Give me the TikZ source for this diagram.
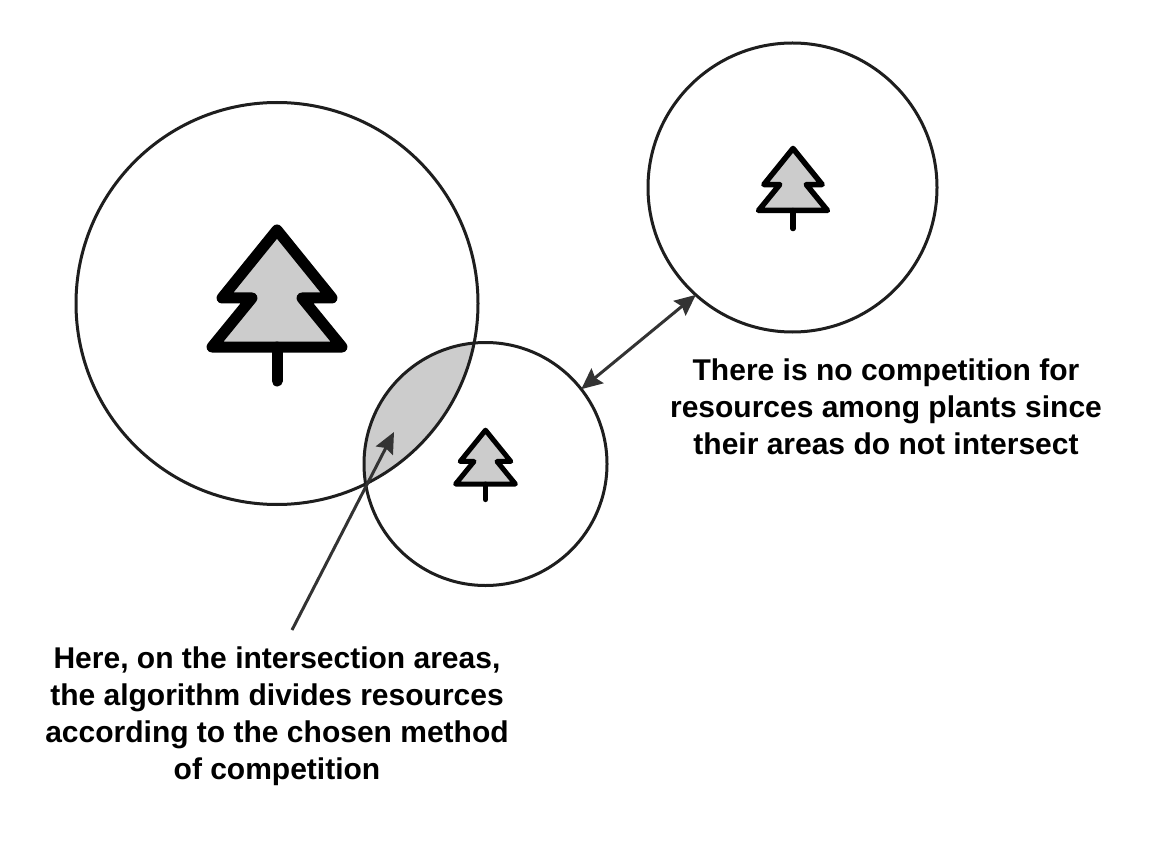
\documentclass[tikz,border=0pt]{standalone}
\usepackage{fontspec}
\setmainfont{Liberation Sans}
\usetikzlibrary{arrows.meta}
\definecolor{ink}{HTML}{1E1E1E}
\definecolor{arrowgray}{HTML}{333333}
\definecolor{leafgray}{HTML}{CCCCCC}
\newcommand{\treeicon}[4]{% x, y (base centre), scale, line width
  \begin{scope}[shift={(#1,#2)}, xscale=#3, yscale=-#3]
    \filldraw[fill=leafgray, draw=black, line width=#4, line join=round, line cap=round]
      (0,117) -- (55,49) -- (25,49) -- (65,0) -- (-65,0) -- (-25,49) -- (-55,49) -- cycle;
    \draw[black, line width=#4, line cap=round] (0,0) -- (0,-34);
  \end{scope}}
\tikzset{
  area/.style={circle, draw=ink, line width=3pt, inner sep=0pt, outer sep=0pt},
  conn/.style={draw=arrowgray, line width=3pt},
  caption/.style={align=center, font=\fontsize{30}{37}\selectfont\bfseries, text=black, inner sep=0pt}
}
\begin{document}
\begin{tikzpicture}[x=1pt, y=-1pt]
  \useasboundingbox[fill=white] (0,0) rectangle (1175,850);
  % lens fill
  \begin{scope}
    \clip (277,303.5) circle (201);
    \fill[leafgray] (485.5,464) circle (121.5);
  \end{scope}
  \node[area, minimum size=402pt] (big) at (277,303.5) {};
  \node[area, minimum size=243pt] (mid) at (485.5,464) {};
  \node[area, minimum size=289pt] (top) at (792.5,187.5) {};
  % trees
  \treeicon{277}{347}{1}{11pt}
  \treeicon{485.5}{484}{0.46}{5pt}
  \treeicon{793}{210.5}{0.53}{5.5pt}
  % arrows
  \coordinate (lensTip) at (394,432);
  \coordinate (tail) at (292,630);
  \draw[conn, -{Stealth[length=21pt, width=19pt, inset=3pt]}] (tail) -- (lensTip);
  \draw[conn, {Stealth[length=21pt, width=19pt, inset=3pt]}-{Stealth[length=21pt, width=19pt, inset=3pt]}] (mid.38) -- (top.228);
  % captions
  \node[caption] (rtext) at (886,407) {There is no competition for\\resources among plants since\\their areas do not intersect};
  \node[caption] (ltext) at (277,716) {Here, on the intersection areas,\\the algorithm divides resources\\according to the chosen method\\of competition};
\end{tikzpicture}
\end{document}
